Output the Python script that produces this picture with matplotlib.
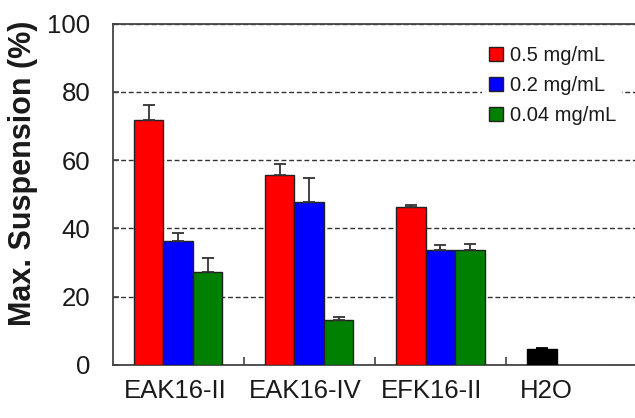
import matplotlib
matplotlib.use("Agg")
import matplotlib.pyplot as plt
import numpy as np
from matplotlib.lines import Line2D

plt.rcParams['font.family'] = ['Liberation Sans', 'DejaVu Sans']

# ---- data ----
categories = ["EAK16-II", "EAK16-IV", "EFK16-II", "H2O"]
series_names = ["0.5 mg/mL", "0.2 mg/mL", "0.04 mg/mL"]
conc_05 = [71.8, 55.7, 46.3]
conc_05_err = [4.3, 3.2, 0.5]
conc_02 = [36.2, 47.6, 33.8]
conc_02_err = [2.4, 7.1, 1.3]
conc_004 = [27.3, 13.2, 33.8]
conc_004_err = [3.9, 0.9, 1.7]
water = [4.7]
water_err = [0.3]
yticks = [0, 20, 40, 60, 80, 100]

# ---- layout ----
W, H = 635, 418
fig = plt.figure(figsize=(W / 100, H / 100), dpi=100)
ax_left, ax_right, ax_top, ax_bot = 112.5, 637, 23.5, 365
ax = fig.add_axes([ax_left / W, (H - ax_bot) / H, (ax_right - ax_left) / W, (ax_bot - ax_top) / H])

bw = 0.225
colors = ["#ff0000", "#0000ff", "#008000"]
x = np.arange(3)
series = [(conc_05, conc_05_err), (conc_02, conc_02_err), (conc_004, conc_004_err)]
for i, (vals, errs) in enumerate(series):
    xs = x + (i - 1) * bw
    ax.bar(xs, vals, width=bw, color=colors[i], edgecolor="#222222", linewidth=1.0, zorder=3)
    ax.errorbar(xs, vals, yerr=[np.zeros(len(errs)), errs], fmt="none", ecolor="#333333",
                elinewidth=1.3, capsize=4.5, capthick=1.3, zorder=4)
# water control bar (black) at first position of 4th group
xw = np.array([3 - bw])
ax.bar(xw, water, width=bw, color="#000000", edgecolor="#000000", linewidth=1.0, zorder=3)
ax.errorbar(xw, water, yerr=[np.zeros(1), water_err], fmt="none", ecolor="#000000",
            elinewidth=1.3, capsize=4.5, capthick=1.3, zorder=4)

ax.set_xlim(-0.5, 3.5)
ax.set_ylim(0, 100)
ax.set_yticks(yticks)
ax.set_yticklabels([str(v) for v in yticks])

label_offsets = [-0.02, -0.03, -0.07, -0.19]
ax.set_xticks(np.arange(len(categories)) + np.array(label_offsets))
ax.set_xticklabels(categories)
ax.set_xticks([0.5, 1.5, 2.5], minor=True)
ax.tick_params(axis="x", which="major", length=0, pad=10, labelsize=18.5, labelcolor="#1a1a1a")
ax.tick_params(axis="x", which="minor", direction="in", length=5.5, width=1.2, color="#444444")
ax.tick_params(axis="y", direction="in", length=4, width=1.2, color="#444444", pad=16,
               labelsize=18.5, labelcolor="#1a1a1a")

for side in ["left", "bottom", "top", "right"]:
    ax.spines[side].set_color("#444444")
    ax.spines[side].set_linewidth(1.3)

ax.yaxis.grid(True, linestyle=(0, (3.5, 2)), color="#333333", linewidth=1.0, zorder=0)
ax.set_axisbelow(True)

ax.set_ylabel("Max. Suspension (%)", fontsize=22, fontweight="bold", color="#1a1a1a")
ax.yaxis.set_label_coords(-0.142, 0.562)

handles = [Line2D([], [], linestyle="none", marker="s", markersize=9.5, markerfacecolor=c,
                  markeredgecolor="#222222", markeredgewidth=1.0) for c in colors]
leg = ax.legend(handles, series_names, loc="upper left", bbox_to_anchor=(482 / W, (H - 40) / H),
                bbox_transform=fig.transFigure, frameon=True, fancybox=False, facecolor="white",
                edgecolor="none", framealpha=1.0, fontsize=14.5, handlelength=0.8,
                handletextpad=0.3, labelspacing=0.55, borderpad=0.3, borderaxespad=0)
for t in leg.get_texts():
    t.set_color("#1a1a1a")

fig.savefig("out.png", dpi=100)
